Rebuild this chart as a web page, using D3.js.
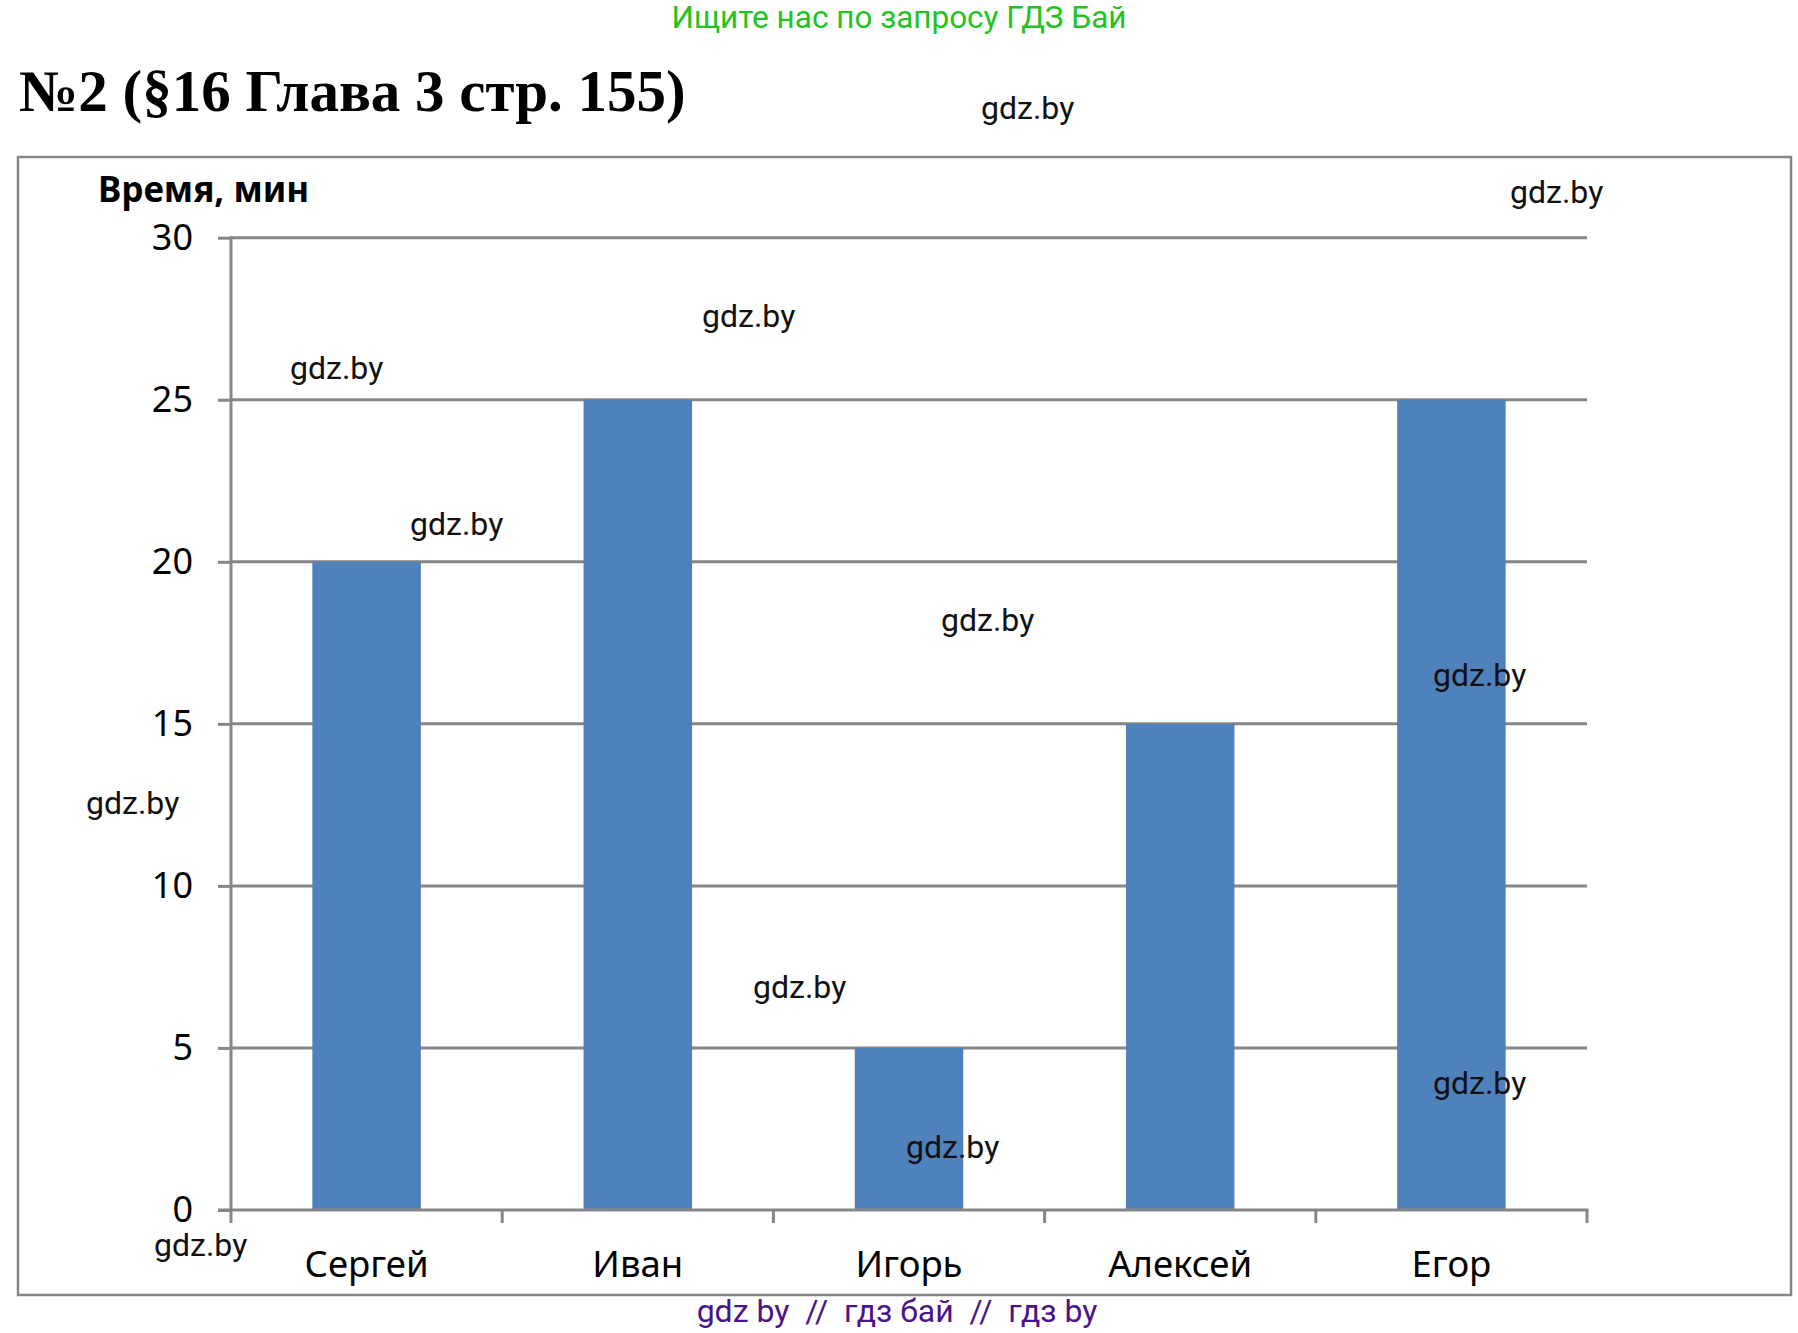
<!DOCTYPE html>
<html>
<head>
<meta charset="utf-8">
<script src="https://cdn.jsdelivr.net/npm/d3@7"></script>
<style>
  body { margin: 0; background: #fff; }
  svg { display: block; }
</style>
</head>
<body>
<div id="chart"></div>
<script>
// data
var names = ["Сергей", "Иван", "Игорь", "Алексей", "Егор"];
var minutes = [20, 25, 5, 15, 25];
var yTicks = [0, 5, 10, 15, 20, 25, 30];

var marks = [
    [981, 119], [1510, 203], [702, 327], [290, 379], [410, 535], [941, 631],
    [1433, 686], [86, 814], [753, 998], [1433, 1094], [906, 1158], [154, 1256]
];

var svgWidth = 1798;
var svgHeight = 1333;

var plot = { left: 231, right: 1587, top: 237.7, bottom: 1210 };
var gridColor = "#868686";
var axisFont = "'Noto Sans', 'Open Sans', sans-serif";

var svg = d3.select("#chart")
    .append("svg")
    .attr("width", svgWidth)
    .attr("height", svgHeight);

// top banner
svg.append("text")
    .attr("x", 899)
    .attr("y", 28)
    .attr("text-anchor", "middle")
    .style("font-family", "Roboto, sans-serif")
    .style("font-size", "31.5px")
    .style("fill", "#22c322")
    .text("Ищите нас по запросу ГДЗ Бай");

svg.append("text")
    .attr("x", 19)
    .attr("y", 111)
    .style("font-family", "'Liberation Serif', 'Times New Roman', serif")
    .style("font-weight", "bold")
    .style("font-size", "59px")
    .text("№2 (§16 Глава 3 стр. 155)");

// chart frame
svg.append("rect")
    .attr("x", 18)
    .attr("y", 157)
    .attr("width", 1773)
    .attr("height", 1138)
    .attr("fill", "none")
    .attr("stroke", gridColor)
    .attr("stroke-width", 2.5);

var x = d3.scaleBand()
    .domain(names)
    .range([plot.left, plot.right])
    .paddingInner(0.6)
    .paddingOuter(0.3);

var y = d3.scaleLinear()
    .domain([0, 30])
    .range([plot.bottom, plot.top]);

var chartGroup = svg.append("g");

// gridlines
chartGroup.selectAll(".grid")
    .data(yTicks.filter(d => d > 0))
    .enter()
    .append("line")
    .attr("x1", plot.left)
    .attr("x2", plot.right)
    .attr("y1", d => y(d))
    .attr("y2", d => y(d))
    .attr("stroke", gridColor)
    .attr("stroke-width", 3);

// y axis
var leftAxis = d3.axisLeft(y)
    .tickValues(yTicks)
    .tickSize(13)
    .tickPadding(25)
    .tickFormat(d3.format("d"));

var yAxis = chartGroup.append("g")
    .attr("transform", `translate(${plot.left}, 0)`)
    .call(leftAxis);

yAxis.select(".domain").remove();
yAxis.selectAll("line")
    .attr("stroke", gridColor)
    .attr("stroke-width", 3);
yAxis.selectAll("text")
    .style("font-family", axisFont)
    .style("font-size", "36px")
    .style("fill", "#000");

chartGroup.append("line")
    .attr("x1", plot.left)
    .attr("x2", plot.left)
    .attr("y1", plot.top - 1.5)
    .attr("y2", plot.bottom + 13)
    .attr("stroke", gridColor)
    .attr("stroke-width", 3);

// bars
chartGroup.selectAll(".bar")
    .data(minutes)
    .enter()
    .append("rect")
    .attr("class", "bar")
    .attr("x", (d, i) => x(names[i]))
    .attr("width", x.bandwidth())
    .attr("y", d => y(d))
    .attr("height", d => y(0) - y(d))
    .attr("fill", "#4f81bd");

// x axis
var bottomAxis = d3.axisBottom(x)
    .tickSize(0)
    .tickPadding(41);

var xAxis = chartGroup.append("g")
    .attr("transform", `translate(0, ${plot.bottom})`)
    .call(bottomAxis);

xAxis.select(".domain").remove();
xAxis.selectAll("text")
    .style("font-family", axisFont)
    .style("font-size", "36.5px")
    .style("fill", "#000");

chartGroup.append("line")
    .attr("x1", plot.left - 13)
    .attr("x2", plot.right + 1.5)
    .attr("y1", y(0))
    .attr("y2", y(0))
    .attr("stroke", gridColor)
    .attr("stroke-width", 3);

// category separators below the axis
var edges = names.map(d => x(d) - x.step() * x.paddingInner() / 2);
edges[0] = plot.left;
edges.push(plot.right);

chartGroup.selectAll(".sep")
    .data(edges.slice(1))
    .enter()
    .append("line")
    .attr("x1", d => d)
    .attr("x2", d => d)
    .attr("y1", y(0))
    .attr("y2", y(0) + 13)
    .attr("stroke", gridColor)
    .attr("stroke-width", 3);

// axis title
svg.append("text")
    .attr("x", 98)
    .attr("y", 202)
    .style("font-family", axisFont)
    .style("font-weight", "bold")
    .style("font-size", "35px")
    .text("Время, мин");

// watermarks
svg.selectAll(".mark")
    .data(marks)
    .enter()
    .append("text")
    .attr("x", d => d[0])
    .attr("y", d => d[1])
    .style("font-family", "Roboto, sans-serif")
    .style("font-size", "32px")
    .style("fill", "#111")
    .text("gdz.by");

svg.append("text")
    .attr("x", 897)
    .attr("y", 1322)
    .attr("text-anchor", "middle")
    .style("font-family", "Roboto, sans-serif")
    .style("font-size", "32px")
    .style("fill", "#4b1488")
    .style("white-space", "pre")
    .text("gdz by  //  гдз бай  //  гдз by");
</script>
</body>
</html>
